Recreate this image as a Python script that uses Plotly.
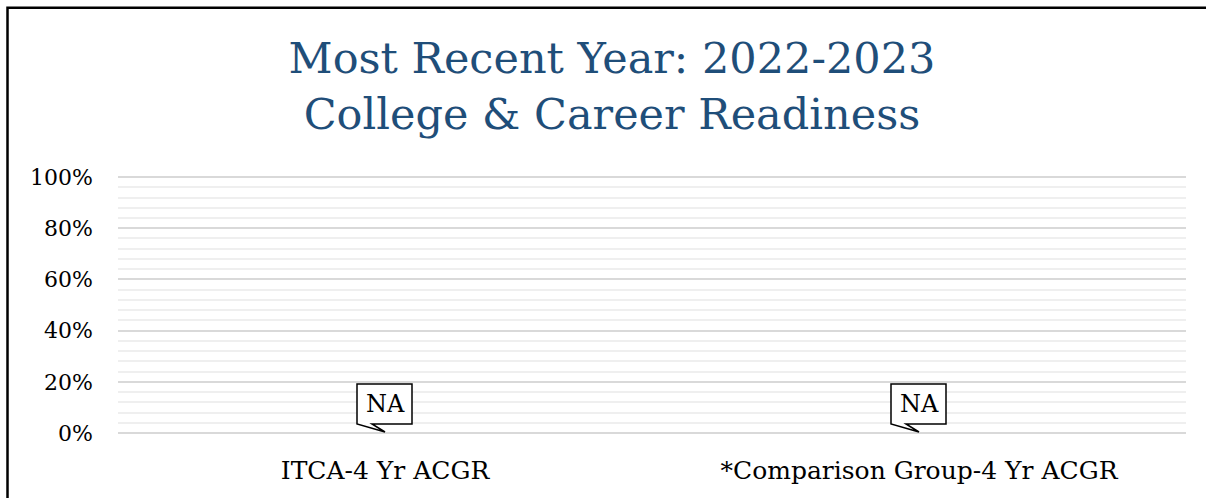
import plotly.graph_objects as go

categories = ["ITCA-4 Yr ACGR", "*Comparison Group-4 Yr ACGR"]
values = [None, None]
value_labels = ["NA", "NA"]
y_ticks = [0, 0.2, 0.4, 0.6, 0.8, 1.0]
title_lines = ["Most Recent Year: 2022-2023", "College & Career Readiness"]

W, H = 1206, 498
ML, MR, MT, MB = 118, 20, 174, 65
PW, PH = W - ML - MR, H - MT - MB

FONT = "DejaVu Serif"

fig = go.Figure()
fig.add_trace(go.Bar(x=categories, y=values, marker_color="#4472c4", showlegend=False))

for cat, lab in zip(categories, value_labels):
    # speech-bubble callout anchored at the (category, 0) point
    fig.add_shape(type="path", xref="x", yref="y", xsizemode="pixel", ysizemode="pixel",
                  xanchor=cat, yanchor=0,
                  path="M -28 9 L -28 49 L 27 49 L 27 9 L -13 9 L 0 1 Z",
                  line=dict(color="black", width=1.5), fillcolor="white", layer="above")
    fig.add_annotation(x=cat, y=0, text=lab, showarrow=False, yshift=29,
                       font=dict(family=FONT, size=24, color="black"))

# outer border (in pixels converted to paper units)
def px_x(p):
    return (p - ML) / PW
def px_y(p):
    return 1 - (p - MT) / PH
fig.add_shape(type="rect", xref="paper", yref="paper",
              x0=px_x(7.5), x1=px_x(1230), y0=px_y(7.8), y1=px_y(520),
              line=dict(color="black", width=2.5), layer="above")

fig.update_layout(
    width=W, height=H,
    margin=dict(l=ML, r=MR, t=MT, b=MB),
    paper_bgcolor="white", plot_bgcolor="white",
    title=dict(text="<br>".join(title_lines), x=612 / W, xanchor="center", xref="container",
               y=1 - 73 / H, yanchor="top", yref="container",
               font=dict(family=FONT, size=43, color="#1f4e79")),
    font=dict(family=FONT, size=22, color="black"),
    xaxis=dict(showgrid=False, showline=False, ticks="", ticklabelstandoff=20,
               tickfont=dict(family=FONT, size=25, color="black")),
    yaxis=dict(range=[0, 1.012], tickvals=y_ticks, tickformat=".0%",
               showgrid=True, gridcolor="#d9d9d9", gridwidth=1.5,
               zeroline=True, zerolinecolor="#d9d9d9", zerolinewidth=1.5,
               minor=dict(dtick=0.04, showgrid=True, gridcolor="#efefef", gridwidth=1.5),
               showline=False, ticks="", ticklabelstandoff=24,
               tickfont=dict(family=FONT, size=22, color="black")),
    bargap=0.5,
)

fig.write_html("out.html", config={"displayModeBar": False},
               post_script="document.body.style.margin='0';")
